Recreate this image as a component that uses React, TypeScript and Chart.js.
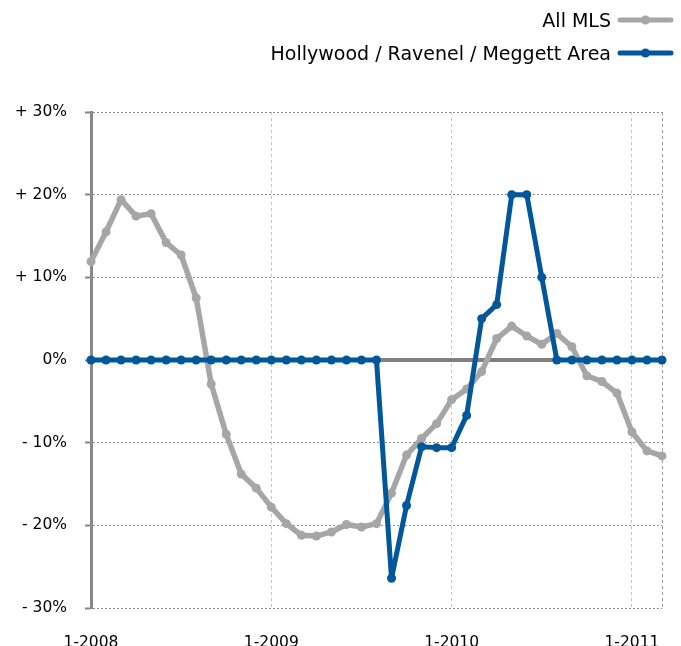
import React, { useEffect, useRef } from 'react';
import { Chart, registerables } from 'chart.js';

Chart.register(...registerables);

const categories = [
  '1-2008', '2-2008', '3-2008', '4-2008', '5-2008', '6-2008', '7-2008', '8-2008', '9-2008', '10-2008', '11-2008', '12-2008',
  '1-2009', '2-2009', '3-2009', '4-2009', '5-2009', '6-2009', '7-2009', '8-2009', '9-2009', '10-2009', '11-2009', '12-2009',
  '1-2010', '2-2010', '3-2010', '4-2010', '5-2010', '6-2010', '7-2010', '8-2010', '9-2010', '10-2010', '11-2010', '12-2010',
  '1-2011', '2-2011', '3-2011',
];

const allMLS = [
  11.9, 15.5, 19.4, 17.4, 17.7, 14.2, 12.7, 7.5, -2.9, -9.0, -13.8, -15.5,
  -17.8, -19.8, -21.2, -21.3, -20.8, -19.9, -20.2, -19.8, -16.1, -11.5, -9.5, -7.7,
  -4.8, -3.5, -1.4, 2.6, 4.1, 2.9, 1.9, 3.2, 1.6, -1.9, -2.6, -4.0,
  -8.7, -11.0, -11.6,
];

const hollywood = [
  0, 0, 0, 0, 0, 0, 0, 0, 0, 0, 0, 0,
  0, 0, 0, 0, 0, 0, 0, 0, -26.4, -17.6, -10.5, -10.6,
  -10.6, -6.7, 5.0, 6.7, 20.0, 20.0, 10.0, 0, 0, 0, 0, 0,
  0, 0, 0,
];

const seriesNames = ['All MLS', 'Hollywood / Ravenel / Meggett Area'];
const yTickValues = [-30, -20, -10, 0, 10, 20, 30];
const yTickLabels = ['- 30%', '- 20%', '- 10%', '0%', '+ 10%', '+ 20%', '+ 30%'];

const GRAY = '#a6a6a6';
const BLUE = '#00579a';
const FONT = '"DejaVu Sans", sans-serif';

const zeroLinePlugin = {
  id: 'zeroLine',
  beforeDatasetsDraw(chart: any) {
    const { ctx, chartArea, scales } = chart;
    const y = scales.y.getPixelForValue(0);
    ctx.save();
    ctx.strokeStyle = '#808080';
    ctx.lineWidth = 4;
    ctx.beginPath();
    ctx.moveTo(chartArea.left, y);
    ctx.lineTo(chartArea.right, y);
    ctx.stroke();
    ctx.restore();
  },
};

const legendPlugin = {
  id: 'customLegend',
  afterDraw(chart: any) {
    const { ctx } = chart;
    const rows = [
      { ds: chart.data.datasets[0], y: 20 },
      { ds: chart.data.datasets[1], y: 53 },
    ];
    ctx.save();
    ctx.font = `19px ${FONT}`;
    ctx.textAlign = 'right';
    ctx.textBaseline = 'alphabetic';
    rows.forEach((r) => {
      ctx.fillStyle = '#000';
      ctx.fillText(r.ds.label, 611, r.y + 7);
      ctx.strokeStyle = r.ds.borderColor;
      ctx.lineWidth = 5;
      ctx.lineCap = 'round';
      ctx.beginPath();
      ctx.moveTo(620, r.y);
      ctx.lineTo(671, r.y);
      ctx.stroke();
      ctx.fillStyle = r.ds.borderColor;
      ctx.beginPath();
      ctx.arc(645.5, r.y, 4.5, 0, Math.PI * 2);
      ctx.fill();
    });
    ctx.restore();
  },
};

export default function App() {
  const ref = useRef<HTMLCanvasElement | null>(null);

  useEffect(() => {
    if (!ref.current) return;
    const chart = new Chart(ref.current, {
      type: 'line',
      data: {
        labels: categories,
        datasets: [
          {
            label: seriesNames[0],
            data: allMLS,
            borderColor: GRAY,
            backgroundColor: GRAY,
            borderWidth: 5.5,
            pointRadius: 4.5,
            pointBorderWidth: 0,
            pointBackgroundColor: GRAY,
            borderJoinStyle: 'round',
            borderCapStyle: 'round',
            tension: 0,
            clip: false,
            order: 1,
          },
          {
            label: seriesNames[1],
            data: hollywood,
            borderColor: BLUE,
            backgroundColor: BLUE,
            borderWidth: 5,
            pointRadius: 4.5,
            pointBorderWidth: 0,
            pointBackgroundColor: BLUE,
            borderJoinStyle: 'round',
            borderCapStyle: 'round',
            tension: 0,
            clip: false,
            order: 0,
          },
        ],
      },
      options: {
        responsive: false,
        animation: false,
        devicePixelRatio: 1,
        layout: { padding: { top: 112, right: 19, left: 0, bottom: 0 } },
        plugins: {
          legend: { display: false },
          tooltip: { enabled: false },
        },
        scales: {
          x: {
            type: 'category',
            offset: false,
            grid: {
              color: (c: any) => {
                const i = c.index;
                if (i === 0) return 'rgba(0,0,0,0)';
                if (i === categories.length - 1) return '#9a9a9a';
                return i % 12 === 0 ? '#c4c4c4' : 'rgba(0,0,0,0)';
              },
              lineWidth: 1,
              drawTicks: false,
            },
            border: { display: false, dash: [3, 3] },
            ticks: {
              autoSkip: false,
              maxRotation: 0,
              minRotation: 0,
              padding: 26,
              color: '#000',
              font: { family: FONT, size: 15.5 },
              callback: (_v: any, i: number) => (i % 12 === 0 ? categories[i] : ''),
            },
            afterFit: (s: any) => {
              s.height = 38;
              s.paddingLeft = 0;
              s.paddingRight = 0;
            },
          },
          y: {
            min: -30,
            max: 30,
            afterBuildTicks: (s: any) => {
              s.ticks = yTickValues.map((v) => ({ value: v }));
            },
            grid: {
              color: '#8c8c8c',
              lineWidth: 1,
              drawTicks: true,
              tickLength: 6,
              tickWidth: 2,
              tickColor: '#888',
            },
            border: { display: true, color: '#888', width: 3, dash: [2, 2] },
            ticks: {
              padding: 18,
              color: '#000',
              font: { family: FONT, size: 15.5 },
              callback: (v: any) => yTickLabels[yTickValues.indexOf(Number(v))],
            },
            afterFit: (s: any) => {
              s.width = 91;
              s.paddingTop = 0;
              s.paddingBottom = 0;
            },
          },
        },
      } as any,
      plugins: [zeroLinePlugin, legendPlugin],
    });
    return () => chart.destroy();
  }, []);

  return (
    <canvas
      ref={ref}
      width={681}
      height={646}
      style={{ position: 'absolute', left: 0, top: 0, display: 'block', width: 681, height: 646 }}
    />
  );
}
